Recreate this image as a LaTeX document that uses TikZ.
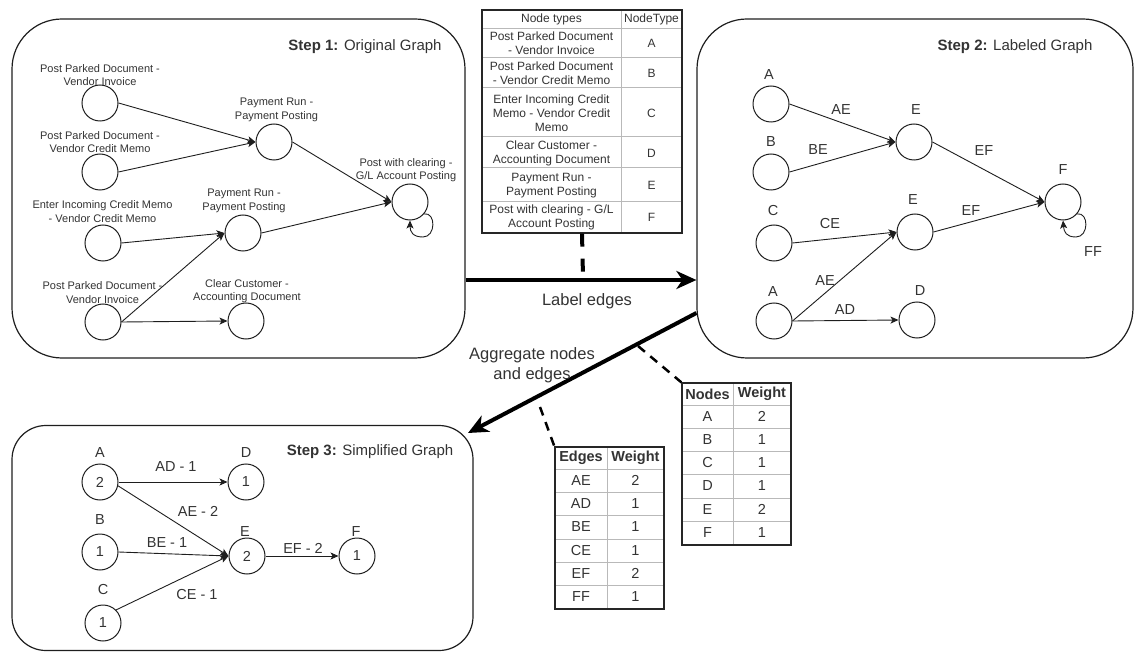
\documentclass[tikz,border=0pt]{standalone}
\usepackage{fontspec}
\setmainfont{Liberation Sans}
\usetikzlibrary{arrows.meta}
\definecolor{txt}{RGB}{51,51,51}
\definecolor{gridc}{RGB}{185,185,185}
\definecolor{edgec}{RGB}{30,30,30}
\newcommand{\myS}{\fontsize{11}{13.3}\selectfont}
\newcommand{\myTab}{\fontsize{12}{14}\selectfont}
\newcommand{\myM}{\fontsize{14.5}{16}\selectfont}
\newcommand{\myT}{\fontsize{15}{17}\selectfont}
\newcommand{\myL}{\fontsize{16.5}{19.5}\selectfont}
\tikzset{
  gc/.style={circle, draw=edgec, line width=1pt, minimum size=36pt, inner sep=0pt, font=\myM, text=txt},
  l1/.style={font=\myS, align=center, inner sep=0pt, text=txt},
  lm/.style={font=\myM, inner sep=0pt, text=txt},
  ttl/.style={font=\myT, inner sep=0pt, text=txt},
  bigl/.style={font=\myL, align=center, inner sep=0pt, text=txt},
  cell/.style={font=\myTab, align=center, inner sep=0pt, text=txt},
  wcell/.style={font=\myM, align=center, inner sep=0pt, text=txt},
  ar/.style={draw=edgec, line width=0.9pt, -{Stealth[length=8pt,width=7pt,inset=2pt]}},
  bigarrow/.style={line width=4pt, -{Stealth[length=20pt,width=18pt,inset=6pt]}},
  thickdash/.style={line width=4pt, dash pattern=on 13pt off 12pt},
  thindash/.style={line width=2.5pt, dash pattern=on 9pt off 7pt},
  panel/.style={draw=edgec, line width=1.2pt, inner sep=0pt},
  tframe/.style={draw=black!85, line width=1.2pt, inner sep=0pt},
  gline/.style={draw=gridc, line width=1pt}
}
\begin{document}
\begin{tikzpicture}[x=1pt,y=-1pt]
\useasboundingbox (0,0) rectangle (1135,652);

% ---------- panels ----------
\node[panel, rounded corners=50pt, minimum width=453pt, minimum height=339pt] (box1) at (238.5,188.5) {};
\node[panel, rounded corners=50pt, minimum width=436pt, minimum height=339pt] (box2) at (915,188.5) {};
\node[panel, rounded corners=34pt, minimum width=461pt, minimum height=225pt] (box3) at (242.5,538) {};

% ---------- Step 1 ----------
\node[ttl] at (365,47) {\textbf{Step 1:} Original Graph};
\node[gc] (A1) at (100,103) {};
\node[gc] (B1) at (100,172) {};
\node[gc] (C1) at (103,243) {};
\node[gc] (A1b) at (103,322) {};
\node[gc] (E1a) at (274,142) {};
\node[gc] (E1b) at (243,233) {};
\node[gc] (D1) at (246,321) {};
\node[gc] (F1) at (410,202) {};
\node[l1] at (100,75) {Post Parked Document -\\Vendor Invoice};
\node[l1] at (100,142) {Post Parked Document -\\Vendor Credit Memo};
\node[l1] at (102.5,211.5) {Enter Incoming Credit Memo\\- Vendor Credit Memo};
\node[l1] at (102.5,292.5) {Post Parked Document -\\Vendor Invoice};
\node[l1] at (276.5,110) {Payment Run -\\Payment Posting};
\node[l1] at (244,201) {Payment Run -\\Payment Posting};
\node[l1] at (247,291.5) {Clear Customer -\\Accounting Document};
\node[l1] at (406,170) {Post with clearing -\\G/L Account Posting};
\draw[ar] (A1.east) -- (E1a.west);
\draw[ar] (B1.east) -- (E1a.west);
\draw[ar] (C1.east) -- (E1b.west);
\draw[ar] (A1b.east) -- (E1b.west);
\draw[ar] (A1b.east) -- (D1.west);
\draw[ar] (E1a.east) -- (F1.west);
\draw[ar] (E1b.east) -- (F1.west);
\draw[ar] (F1.-40) .. controls (436,212) and (436,237) .. (423,237) .. controls (413,237) and (410,232) .. (F1.south);

% ---------- Step 2 ----------
\node[ttl] at (1015,47) {\textbf{Step 2:} Labeled Graph};
\node[gc] (A2a) at (771,104) {};
\node[gc] (B2) at (771,172) {};
\node[gc] (C2) at (774,243) {};
\node[gc] (A2b) at (774,321) {};
\node[gc] (E2a) at (914,142) {};
\node[gc] (E2b) at (915,232) {};
\node[gc] (D2) at (917,320) {};
\node[gc] (F2) at (1063,202) {};
\node[lm] at (769,75) {A};
\node[lm] at (771,142) {B};
\node[lm] at (773,211) {C};
\node[lm] at (773,292) {A};
\node[lm] at (916,110) {E};
\node[lm] at (913,200) {E};
\node[lm] at (920,291) {D};
\node[lm] at (1063,170) {F};
\draw[ar] (A2a.east) -- (E2a.west);
\draw[ar] (B2.east) -- (E2a.west);
\draw[ar] (C2.east) -- (E2b.west);
\draw[ar] (A2b.east) -- (E2b.west);
\draw[ar] (A2b.east) -- (D2.west);
\draw[ar] (E2a.east) -- (F2.west);
\draw[ar] (E2b.east) -- (F2.west);
\draw[ar] (F2.-40) .. controls (1089,212) and (1089,237) .. (1076,237) .. controls (1066,237) and (1064,232) .. (F2.south);
\node[lm] at (841,110) {AE};
\node[lm] at (818,150) {BE};
\node[lm] at (830,224) {CE};
\node[lm] at (984,151) {EF};
\node[lm] at (971,211) {EF};
\node[lm] at (825,281) {AE};
\node[lm] at (845,310) {AD};
\node[lm] at (1093,252) {FF};

% ---------- Step 3 ----------
\node[ttl] at (370,452) {\textbf{Step 3:} Simplified Graph};
\node[gc] (A3) at (100,482) {2};
\node[gc] (D3) at (246,482) {1};
\node[gc] (B3) at (100,552) {1};
\node[gc] (E3) at (247,556) {2};
\node[gc] (F3) at (357,556) {1};
\node[gc] (C3) at (103,623) {1};
\node[lm] at (100,453) {A};
\node[lm] at (246,453) {D};
\node[lm] at (100,520) {B};
\node[lm] at (245,532) {E};
\node[lm] at (356,532) {F};
\node[lm] at (103,590) {C};
\draw[ar] (A3.east) -- (D3.west);
\draw[ar] (A3.-12) -- (E3.west);
\draw[ar] (B3.east) -- (E3.west);
\draw[ar] (C3.45) -- (E3.west);
\draw[ar] (E3.east) -- (F3.west);
\node[lm] at (176,467) {AD - 1};
\node[lm] at (198,511) {AE - 2};
\node[lm] at (167,543) {BE - 1};
\node[lm] at (303,548) {EF - 2};
\node[lm] at (197,595) {CE - 1};

% ---------- top table ----------
\foreach \yy in {29,58,88,137,168,202} \draw[gline] (482,\yy) -- (682,\yy);
\draw[gline] (621,10) -- (621,233);
\node[tframe, minimum width=200pt, minimum height=223pt] (ntab) at (582,121.5) {};
\node[cell] at (551.5,19.5) {Node types};
\node[cell] at (651.5,19.5) {NodeType};
\node[cell] at (551.5,43.5) {Post Parked Document\\- Vendor Invoice};
\node[cell] at (651.5,43.5) {A};
\node[cell] at (551.5,73.5) {Post Parked Document\\- Vendor Credit Memo};
\node[cell] at (651.5,73.5) {B};
\node[cell] at (551.5,113) {Enter Incoming Credit\\Memo - Vendor Credit\\Memo};
\node[cell] at (651.5,113) {C};
\node[cell] at (551.5,153) {Clear Customer -\\Accounting Document};
\node[cell] at (651.5,153) {D};
\node[cell] at (551.5,185.5) {Payment Run -\\Payment Posting};
\node[cell] at (651.5,185.5) {E};
\node[cell] at (551.5,217.5) {Post with clearing - G/L\\Account Posting};
\node[cell] at (651.5,217.5) {F};

% ---------- nodes weight table ----------
\foreach \yy in {405,428,451,474,498,521} \draw[gline] (682,\yy) -- (791,\yy);
\draw[gline] (733,383) -- (733,545);
\node[tframe, minimum width=109pt, minimum height=162pt] (wtab) at (736.5,464) {};
\node[wcell] at (707.5,394) {\textbf{Nodes}};
\node[wcell] at (762,394) {\textbf{Weight}};
\foreach \yy/\a/\b in {416.5/A/2, 439.5/B/1, 462.5/C/1, 486/D/1, 509.5/E/2, 533/F/1} {
  \node[wcell] at (707.5,\yy) {\a};
  \node[wcell] at (762,\yy) {\b};
}

% ---------- edges weight table ----------
\foreach \yy in {469,492,515,539,562,585} \draw[gline] (555,\yy) -- (664,\yy);
\draw[gline] (607,447) -- (607,609);
\node[tframe, minimum width=109pt, minimum height=162pt] (etab) at (609.5,528) {};
\node[wcell] at (581,458) {\textbf{Edges}};
\node[wcell] at (635.5,458) {\textbf{Weight}};
\foreach \yy/\a/\b in {480.5/AE/2, 503.5/AD/1, 527/BE/1, 550.5/CE/1, 573.5/EF/2, 597/FF/1} {
  \node[wcell] at (581,\yy) {\a};
  \node[wcell] at (635.5,\yy) {\b};
}

% ---------- big arrows ----------
\coordinate (lemid) at (583,277);
\coordinate (aggE) at (468,433);
\coordinate (aggN) at (638,346);
\coordinate (aggD) at (540,407);
\draw[bigarrow] (box1.east |- 0,280) -- (box2.west |- 0,280);
\draw[bigarrow] (box2.west |- 0,313) -- (aggE);
\draw[thickdash] (ntab.south) -- (lemid);
\draw[thindash] (aggN) -- (wtab.north west);
\draw[thindash] (aggD) -- (etab.north west);
\node[bigl] at (587,301) {Label edges};
\node[bigl] at (532,365) {Aggregate nodes\\and edges};

\end{tikzpicture}
\end{document}
